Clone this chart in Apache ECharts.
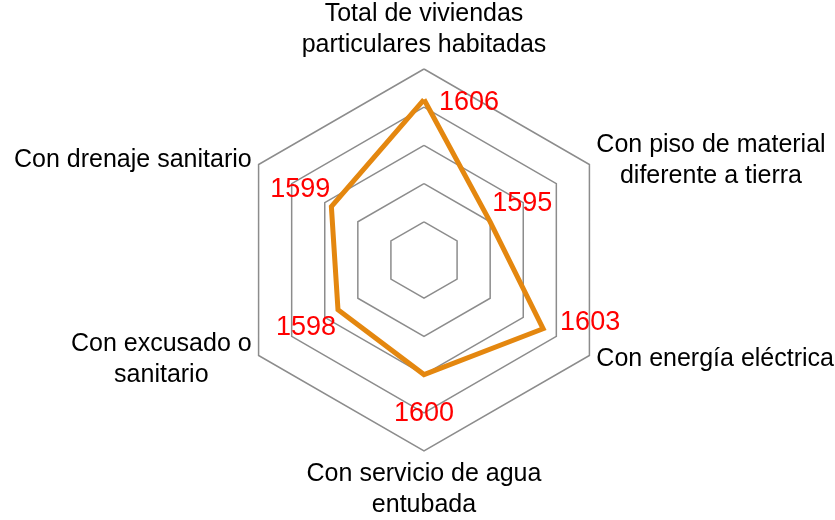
<!DOCTYPE html>
<html>
<head>
<meta charset="utf-8">
<script src="https://cdn.jsdelivr.net/npm/echarts@6/dist/echarts.min.js"></script>
<style>
  html, body { margin: 0; padding: 0; background: #fff; }
  #chart { width: 835px; height: 520px; }
</style>
</head>
<body>
<div id="chart"></div>
<script>
  // categories in clockwise order, starting at the top
  var categories = [
    'Total de viviendas\nparticulares habitadas',
    'Con piso de material\ndiferente a tierra',
    'Con energía eléctrica',
    'Con servicio de agua\nentubada',
    'Con excusado o\nsanitario',
    'Con drenaje sanitario'
  ];
  var values = [1606, 1595, 1603, 1600, 1598, 1599];
  var axisMin = 1585;
  var axisMax = 1610;
  var rings = 5;

  // label placement for each value (same order as categories)
  var labelPos = [
    { position: 'right', distance: 14, offset: [0, 3] },
    { position: 'right', distance: 1, offset: [0, -18] },
    { position: 'right', distance: 16, offset: [0, -6] },
    { position: 'bottom', distance: 24, offset: [0, 0] },
    { position: 'left', distance: 1, offset: [0, 18] },
    { position: 'left', distance: 0, offset: [0, -17] }
  ];

  // echarts lays indicators out counter-clockwise
  var order = [0, 5, 4, 3, 2, 1];
  var orderedValues = order.map(function (i) { return values[i]; });

  var indicators = order.map(function (i) {
    return { name: categories[i], min: axisMin, max: axisMax };
  });

  var labelItems = order.map(function (i) {
    var v = values[i];
    return {
      value: orderedValues,
      symbol: 'circle',
      symbolSize: 2,
      itemStyle: { color: 'rgba(0,0,0,0)' },
      lineStyle: { width: 0, opacity: 0 },
      label: {
        show: true,
        position: labelPos[i].position,
        distance: labelPos[i].distance,
        offset: labelPos[i].offset,
        color: '#ff0000',
        fontSize: 27,
        fontFamily: 'Liberation Sans',
        formatter: function (p) {
          return p.value === v ? String(v) : '';
        }
      }
    };
  });

  var chart = echarts.init(document.getElementById('chart'));
  chart.setOption({
    animation: false,
    backgroundColor: '#fff',
    radar: {
      center: [424, 260],
      radius: 191,
      startAngle: 90,
      shape: 'polygon',
      splitNumber: rings,
      indicator: indicators,
      axisNameGap: 8,
      axisName: {
        color: '#000',
        fontSize: 25,
        fontFamily: 'Liberation Sans',
        lineHeight: 31,
        formatter: function (name) {
          return '{n|' + name + '}';
        },
        rich: {
          n: { align: 'center', fontSize: 25, lineHeight: 31, color: '#000', fontFamily: 'Liberation Sans' }
        }
      },
      axisLine: { show: false },
      axisTick: { show: false },
      axisLabel: { show: false },
      splitArea: { show: false },
      splitLine: { lineStyle: { color: '#8c8c8c', width: 1.5 } }
    },
    series: [{
      type: 'radar',
      data: [{
        value: orderedValues,
        symbol: 'none',
        lineStyle: { color: '#e4870f', width: 5, join: 'miter' },
        label: { show: false }
      }].concat(labelItems)
    }]
  });
</script>
</body>
</html>
